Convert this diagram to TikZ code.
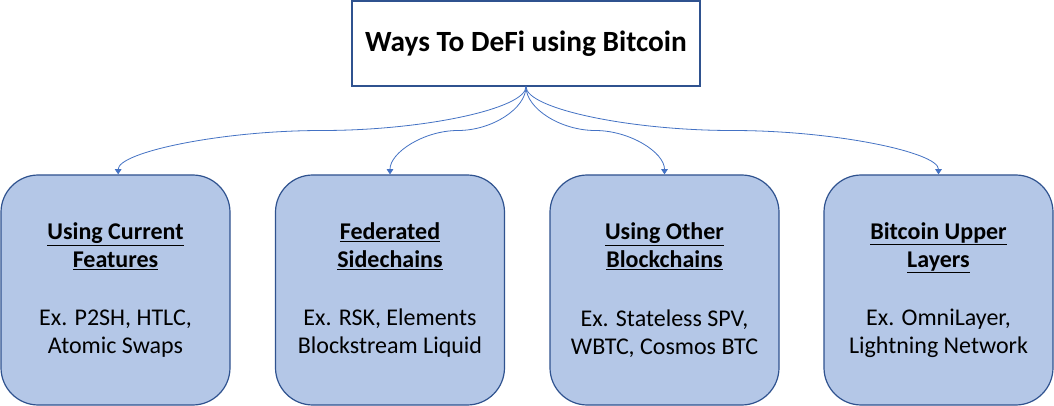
\documentclass[tikz,border=0pt]{standalone}
\usepackage{fontspec}
\setmainfont{Carlito}
\usetikzlibrary{arrows.meta,calc}
\definecolor{boxfill}{HTML}{B4C7E7}
\definecolor{boxline}{HTML}{2F528F}
\definecolor{conn}{HTML}{4472C4}
\tikzset{
  topbox/.style={draw=boxline, fill=white, line width=0.9pt, minimum width=261pt, minimum height=63.75pt, inner sep=0pt,
    font=\fontsize{22}{26}\selectfont\bfseries},
  catbox/.style={draw=boxline, fill=boxfill, line width=0.9pt, rounded corners=28pt,
    minimum width=171.75pt, minimum height=172.5pt, inner sep=0pt, align=center,
    font=\fontsize{18}{21}\selectfont},
  elbowcurve/.style={to path={
    let \p1=(\tikztostart), \p2=(\tikztotarget) in
    .. controls (\x1,{\y1+(\y2-\y1)/4}) and ({\x1+(\x2-\x1)/4},{(\y1+\y2)/2}) .. ({(\x1+\x2)/2},{(\y1+\y2)/2})
    .. controls ({\x1+3*(\x2-\x1)/4},{(\y1+\y2)/2}) and (\x2,{\y2-(\y2-\y1)/4}) .. (\x2,\y2)}},
  conn/.style={draw=conn, line width=0.6pt, -{Triangle[length=4pt,width=5pt]}, elbowcurve}
}
\newcommand{\hd}[1]{\underline{\textbf{#1}}}
\begin{document}
\begin{tikzpicture}[x=0.75pt,y=-0.75pt]
\fill[white] (0,0) rectangle (1054,406);
\useasboundingbox (0,0) rectangle (1054,406);
\node[topbox] (top) at (526,43.5) {Ways To DeFi using Bitcoin};
\node[catbox] (b1) at (115.5,290) {\hd{Using Current}\\\hd{Features}\\[23pt]Ex. P2SH, HTLC,\\Atomic Swaps};
\node[catbox] (b2) at (390,290) {\hd{Federated}\\\hd{Sidechains}\\[23pt]Ex. RSK, Elements\\Blockstream Liquid};
\node[catbox] (b3) at (664.5,290) {\hd{Using Other}\\\hd{Blockchains}\\[23pt]Ex. Stateless SPV,\\WBTC, Cosmos BTC};
\node[catbox] (b4) at (938.5,290) {\hd{Bitcoin Upper}\\\hd{Layers}\\[23pt]Ex. OmniLayer,\\Lightning Network};
\draw[conn] (top.south) to ([xshift=2pt]b1.north);
\draw[conn] (top.south) to (b2.north);
\draw[conn] (top.south) to (b3.north);
\draw[conn] (top.south) to (b4.north);
\end{tikzpicture}
\end{document}
